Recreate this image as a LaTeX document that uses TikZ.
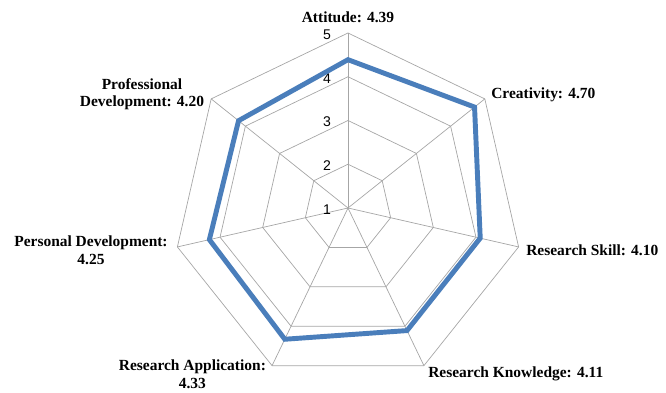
\documentclass[tikz,border=0pt]{standalone}
\usepackage{fontspec}
\setmainfont{Liberation Serif}
\setsansfont{Liberation Sans}
\definecolor{serie}{HTML}{4A7EBB}
\definecolor{rejillagris}{HTML}{A6A6A6}
\begin{document}
\begin{tikzpicture}[
    rejilla/.style={draw=rejillagris, line width=0.5pt},
    serielinea/.style={draw=serie, line width=3.5pt, line join=miter},
    etiqueta/.style={font=\bfseries\fontsize{11}{12.5}\selectfont, align=center, inner sep=0pt},
    escala/.style={font=\sffamily\fontsize{10}{12}\selectfont, anchor=east, inner sep=0pt}]
    \useasboundingbox (-8.7,-4.625) rectangle (7.95,5.2);
    \def\R{4.375}

    % Centro y vértices exteriores
    \coordinate (c) at (0,0);
    \foreach \k in {0,...,6}
        \coordinate (v\k) at (90-\k*360/7:\R);

    % Anillos de la rejilla (2, 3, 4, 5)
    \foreach \r in {1,2,3,4} {
        \draw[rejilla] (90:\r*\R/4) \foreach \k in {1,...,6} { -- (90-\k*360/7:\r*\R/4) } -- cycle;
    }

    % Radios
    \foreach \k in {0,...,6}
        \draw[rejilla] (c) -- (v\k);

    % Escala del eje
    \foreach \n in {1,...,5}
        \node[escala] (n\n) at (-0.42,{(\n-1)*\R/4-0.04}) {\n};

    % Serie de valores
    \foreach \v [count=\k from 0] in {4.39,4.70,4.10,4.11,4.33,4.25,4.20}
        \coordinate (s\k) at (90-\k*360/7:{(\v-1)*\R/4});
    \draw[serielinea] (s0) -- (s1) -- (s2) -- (s3) -- (s4) -- (s5) -- (s6) -- cycle;

    % Etiquetas de los ejes
    \node[etiqueta] (att) at (0,4.775) {Attitude: 4.39};
    \node[etiqueta, anchor=west] (cre) at (3.575,2.825) {Creativity: 4.70};
    \node[etiqueta, anchor=west] (rsk) at (4.45,-1.05) {Research Skill: 4.10};
    \node[etiqueta, anchor=west] (rkn) at (2.0,-4.15) {Research Knowledge: 4.11};
    \node[etiqueta] (rap) at (-3.89,-4.15) {Research Application:\\4.33};
    \node[etiqueta] (pde) at (-6.425,-1.05) {Personal Development:\\4.25};
    \node[etiqueta] (prd) at (-5.15,2.85) {Professional\\Development: 4.20};
\end{tikzpicture}
\end{document}
